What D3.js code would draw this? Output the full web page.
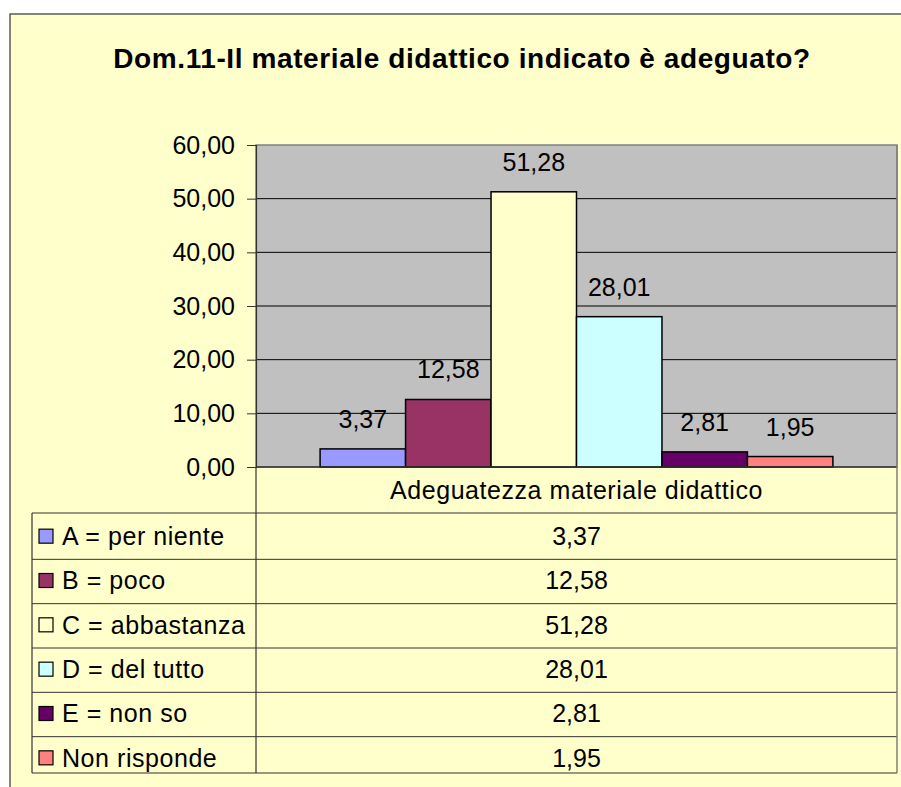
<!DOCTYPE html>
<html>
<head>
<meta charset="utf-8">
<script src="https://cdn.jsdelivr.net/npm/d3@7"></script>
<style>
  body { margin: 0; background: #fff; }
  text { font-family: Arial, "Liberation Sans", sans-serif; fill: #000; }
  .label { letter-spacing: 0.55px; }
</style>
</head>
<body>
<div id="chart-area"></div>
<script>
// data
var categories = ["A = per niente", "B = poco", "C = abbastanza", "D = del tutto", "E = non so", "Non risponde"];
var values = [3.37, 12.58, 51.28, 28.01, 2.81, 1.95];
var barColors = ["#9999FF", "#993366", "#FFFFCC", "#CCFFFF", "#660066", "#FF8080"];
var seriesName = "Adeguatezza materiale didattico";
var yTicks = [0, 10, 20, 30, 40, 50, 60];
var title = "Dom.11-Il materiale didattico indicato è adeguato?";

var width = 901, height = 787;
var plot = {left: 256, right: 897, top: 145, bottom: 467};
var table = {left: 32, top: 513, rowH: 44, bottom: 773};
var fontSize = 25;

var it = d3.formatLocale({decimal: ",", thousands: ".", grouping: [3], currency: ["€", ""]});
var fmt = it.format(".2f");

var svg = d3.select("#chart-area").append("svg")
    .attr("width", width)
    .attr("height", height);

// chart frame
svg.append("rect")
    .attr("x", 10).attr("y", 14)
    .attr("width", width + 20).attr("height", height + 20)
    .attr("fill", "#FFFFCC")
    .attr("stroke", "#333")
    .attr("stroke-width", 1.2);

svg.append("text")
    .attr("x", 462).attr("y", 68)
    .attr("text-anchor", "middle")
    .style("font-size", "28px")
    .style("font-weight", "bold")
    .style("letter-spacing", "0.6px")
    .text(title);

var xScale = d3.scaleBand()
    .domain(categories)
    .range([plot.left, plot.right])
    .paddingInner(0)
    .paddingOuter(0.75);

var yScale = d3.scaleLinear()
    .domain([0, 60])
    .range([plot.bottom, plot.top]);

// plot area
svg.append("rect")
    .attr("x", plot.left).attr("y", plot.top)
    .attr("width", plot.right - plot.left)
    .attr("height", plot.bottom - plot.top)
    .attr("fill", "#C0C0C0")
    .attr("stroke", "#808080")
    .attr("stroke-width", 1.5);

// gridlines
svg.append("g").selectAll("line")
    .data(yTicks.filter(function(d) { return d > 0 && d < 60; }))
    .enter().append("line")
    .attr("x1", plot.left).attr("x2", plot.right)
    .attr("y1", function(d) { return yScale(d); })
    .attr("y2", function(d) { return yScale(d); })
    .attr("stroke", "#000")
    .attr("stroke-width", 1);

// y axis
var yAxis = d3.axisLeft(yScale)
    .tickValues(yTicks)
    .tickSize(9)
    .tickPadding(12)
    .tickFormat(fmt);

var yg = svg.append("g")
    .attr("transform", "translate(" + plot.left + ",0)")
    .call(yAxis);
yg.select(".domain").attr("stroke", "#333").attr("stroke-width", 1.2);
yg.selectAll(".tick line").attr("stroke", "#333");
yg.selectAll(".tick text")
    .style("font-size", fontSize + "px")
    .style("font-family", "Arial, 'Liberation Sans', sans-serif")
    .attr("fill", "#000");

// bars
svg.append("g").selectAll("rect")
    .data(values)
    .enter().append("rect")
    .attr("x", function(d, i) { return xScale(categories[i]); })
    .attr("y", function(d) { return yScale(d); })
    .attr("width", xScale.bandwidth())
    .attr("height", function(d) { return yScale(0) - yScale(d); })
    .attr("fill", function(d, i) { return barColors[i]; })
    .attr("stroke", "#000")
    .attr("stroke-width", 1.5);

// value labels
svg.append("g").selectAll("text")
    .data(values)
    .enter().append("text")
    .attr("x", function(d, i) { return xScale(categories[i]) + xScale.bandwidth() / 2; })
    .attr("y", function(d) { return yScale(d) - 21; })
    .attr("text-anchor", "middle")
    .style("font-size", fontSize + "px")
    .text(function(d) { return fmt(d); });

// x axis line
svg.append("line")
    .attr("x1", plot.left).attr("x2", plot.right)
    .attr("y1", plot.bottom).attr("y2", plot.bottom)
    .attr("stroke", "#333").attr("stroke-width", 1.5);

// data table
var rowScale = d3.scaleBand()
    .domain(categories)
    .range([table.top, table.top + table.rowH * categories.length + 2]);

var tg = svg.append("g");
var lineColor = "#333";

// category header
tg.append("text")
    .attr("class", "label")
    .attr("x", (plot.left + plot.right) / 2)
    .attr("y", (plot.bottom + table.top) / 2)
    .attr("dy", "0.35em")
    .attr("text-anchor", "middle")
    .style("font-size", fontSize + "px")
    .text(seriesName);

// horizontal lines
tg.append("line")
    .attr("x1", table.left).attr("x2", plot.right)
    .attr("y1", table.top).attr("y2", table.top)
    .attr("stroke", lineColor).attr("stroke-width", 1.2);
tg.selectAll(".row-line")
    .data(categories.slice(1))
    .enter().append("line")
    .attr("class", "row-line")
    .attr("x1", table.left).attr("x2", plot.right)
    .attr("y1", function(d) { return rowScale(d) + 2; })
    .attr("y2", function(d) { return rowScale(d) + 2; })
    .attr("stroke", lineColor).attr("stroke-width", 1);
tg.append("line")
    .attr("x1", table.left).attr("x2", plot.right)
    .attr("y1", table.bottom).attr("y2", table.bottom)
    .attr("stroke", lineColor).attr("stroke-width", 1.2);

// vertical lines
tg.append("line")
    .attr("x1", table.left).attr("x2", table.left)
    .attr("y1", table.top).attr("y2", table.bottom)
    .attr("stroke", lineColor).attr("stroke-width", 1.2);
tg.append("line")
    .attr("x1", plot.left).attr("x2", plot.left)
    .attr("y1", plot.bottom).attr("y2", table.bottom)
    .attr("stroke", lineColor).attr("stroke-width", 1.2);
tg.append("line")
    .attr("x1", plot.right).attr("x2", plot.right)
    .attr("y1", plot.top).attr("y2", table.bottom)
    .attr("stroke", "#808080").attr("stroke-width", 1.5);

// legend keys + labels
var rows = tg.selectAll(".row")
    .data(categories)
    .enter().append("g")
    .attr("class", "row")
    .attr("transform", function(d) { return "translate(0," + (rowScale(d) + rowScale.bandwidth() / 2 + 1) + ")"; });

rows.append("rect")
    .attr("x", 39).attr("y", -7)
    .attr("width", 14).attr("height", 14)
    .attr("fill", function(d, i) { return barColors[i]; })
    .attr("stroke", "#000")
    .attr("stroke-width", 1.2);

rows.append("text")
    .attr("class", "label")
    .attr("x", 62)
    .attr("dy", "0.35em")
    .style("font-size", fontSize + "px")
    .text(function(d) { return d; });

rows.append("text")
    .attr("x", (plot.left + plot.right) / 2)
    .attr("dy", "0.35em")
    .attr("text-anchor", "middle")
    .style("font-size", fontSize + "px")
    .text(function(d, i) { return fmt(values[i]); });
</script>
</body>
</html>
